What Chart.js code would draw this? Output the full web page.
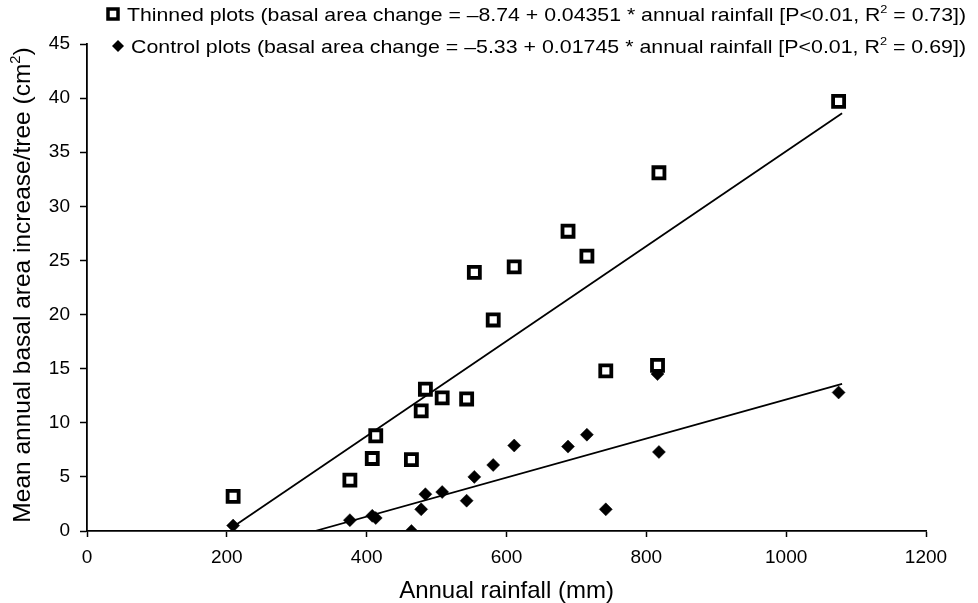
<!DOCTYPE html>
<html>
<head>
<meta charset="utf-8">
<script src="https://cdn.jsdelivr.net/npm/chart.js@4.4.0/dist/chart.umd.min.js"></script>
<style>
  html, body { margin: 0; padding: 0; background: #fff; }
  #wrap { width: 978px; height: 603px; position: relative; }
</style>
</head>
<body>
<div id="wrap"><canvas id="chart" width="978" height="603"></canvas></div>
<script>
// Data
const rainfall = [209, 376, 408, 413, 464, 478, 484, 508, 543, 554, 581, 611, 688, 715, 742, 816, 818, 1075];
const thinned  = [3.2, 4.7, 6.7, 8.8, 6.6, 11.1, 13.1, 12.3, 12.2, 23.9, 19.5, 24.4, 27.7, 25.4, 14.8, 15.3, 33.1, 39.7];
const control  = [0.5, 1.0, 1.4, 1.2, 0.0, 2.0, 3.4, 3.6, 2.8, 5.0, 6.1, 7.9, 7.8, 8.9, 2.0, 14.5, 7.3, 12.8];

// Regression line end points
const thinnedFitX = [209, 1080];
const thinnedFitY = [0.4, 38.6];
const controlFitX = [326, 1080];
const controlFitY = [0, 13.6];

const xTicks = [0, 200, 400, 600, 800, 1000, 1200];
const yTicks = [0, 5, 10, 15, 20, 25, 30, 35, 40, 45];

const legendLines = [
    [{ t: 'Thinned plots (basal area change = \u20138.74 + 0.04351 * annual rainfall [P<0.01, R' }, { t: '2', sup: true }, { t: ' = 0.73])' }],
    [{ t: 'Control plots (basal area change = \u20135.33 + 0.01745 * annual rainfall [P<0.01, R' }, { t: '2', sup: true }, { t: ' = 0.69])' }]
];
const yTitle = [{ t: 'Mean annual basal area increase/tree (cm' }, { t: '2', sup: true }, { t: ')' }];

const FONT = '"Liberation Sans", Arial, sans-serif';

function toPoints(xs, ys) {
    return xs.map((x, i) => ({ x: x, y: ys[i] }));
}

// measure / draw text with superscripts
function richWidth(ctx, parts, size) {
    let w = 0;
    parts.forEach(p => {
        ctx.font = (p.sup ? size * 0.6 : size) + 'px ' + FONT;
        w += ctx.measureText(p.t).width;
    });
    return w;
}

function drawRich(ctx, parts, x, y, size) {
    let cx = x;
    parts.forEach(p => {
        ctx.font = (p.sup ? size * 0.6 : size) + 'px ' + FONT;
        ctx.fillText(p.t, cx, p.sup ? y - size * 0.42 : y);
        cx += ctx.measureText(p.t).width;
    });
}

const extrasPlugin = {
    id: 'extras',
    afterDraw(chart) {
        const ctx = chart.ctx;
        ctx.save();
        ctx.fillStyle = '#000';
        ctx.textBaseline = 'alphabetic';
        ctx.textAlign = 'left';

        // legend line 1: hollow square
        ctx.lineWidth = 3.5;
        ctx.strokeStyle = '#000';
        ctx.fillStyle = '#fff';
        ctx.fillRect(108, 9, 10, 10);
        ctx.strokeRect(108, 9, 10, 10);
        ctx.fillStyle = '#000';
        const size = 19;
        const right = 966;
        let start = 127;
        let w = richWidth(ctx, legendLines[0], size);
        ctx.save();
        ctx.translate(start, 21);
        ctx.scale((right - start) / w, 1);
        drawRich(ctx, legendLines[0], 0, 0, size);
        ctx.restore();

        // legend line 2: filled diamond
        ctx.beginPath();
        ctx.moveTo(118, 40);
        ctx.lineTo(124, 46);
        ctx.lineTo(118, 52);
        ctx.lineTo(112, 46);
        ctx.closePath();
        ctx.fill();
        start = 131;
        w = richWidth(ctx, legendLines[1], size);
        ctx.save();
        ctx.translate(start, 53);
        ctx.scale((right - start) / w, 1);
        drawRich(ctx, legendLines[1], 0, 0, size);
        ctx.restore();

        // y axis title, rotated
        const ts = 24.5;
        const tw = richWidth(ctx, yTitle, ts);
        ctx.save();
        ctx.translate(30, 285);
        ctx.rotate(-Math.PI / 2);
        drawRich(ctx, yTitle, -tw / 2, 0, ts);
        ctx.restore();

        ctx.restore();
    }
};

const ctx = document.getElementById('chart').getContext('2d');

new Chart(ctx, {
    type: 'scatter',
    data: {
        datasets: [
            {
                label: 'Thinned plots',
                data: toPoints(rainfall, thinned),
                pointStyle: 'rect',
                pointRadius: 7.8,
                pointBackgroundColor: '#fff',
                pointBorderColor: '#000',
                pointBorderWidth: 3.8,
                order: 0
            },
            {
                label: 'Control plots',
                data: toPoints(rainfall, control),
                pointStyle: 'rectRot',
                pointRadius: 6.5,
                pointBackgroundColor: '#000',
                pointBorderColor: '#000',
                pointBorderWidth: 0.5,
                order: 0
            },
            {
                label: 'Thinned fit',
                data: toPoints(thinnedFitX, thinnedFitY),
                showLine: true,
                pointRadius: 0,
                borderColor: '#000',
                borderWidth: 1.8,
                order: 1
            },
            {
                label: 'Control fit',
                data: toPoints(controlFitX, controlFitY),
                showLine: true,
                pointRadius: 0,
                borderColor: '#000',
                borderWidth: 1.8,
                order: 1
            }
        ]
    },
    options: {
        responsive: false,
        animation: false,
        devicePixelRatio: 1,
        layout: {
            padding: { left: 0, top: 44, right: 52, bottom: 0 }
        },
        scales: {
            x: {
                type: 'linear',
                min: 0,
                max: 1200,
                afterBuildTicks: axis => { axis.ticks = xTicks.map(v => ({ value: v })); },
                afterFit: axis => { axis.height = 72; },
                ticks: {
                    color: '#000',
                    font: { family: FONT, size: 19 },
                    padding: 9,
                    autoSkip: false,
                    maxRotation: 0,
                    callback: v => String(v)
                },
                grid: {
                    drawOnChartArea: false,
                    drawTicks: true,
                    tickLength: 6,
                    tickWidth: 1.5,
                    tickColor: '#000'
                },
                border: { display: true, color: '#000', width: 1.8 },
                title: {
                    display: true,
                    text: 'Annual rainfall (mm)',
                    color: '#000',
                    font: { family: FONT, size: 24, lineHeight: 1 },
                    padding: { top: 4, bottom: 0 }
                }
            },
            y: {
                type: 'linear',
                min: 0,
                max: 45,
                afterBuildTicks: axis => { axis.ticks = yTicks.map(v => ({ value: v })); },
                afterFit: axis => { axis.width = 87; },
                ticks: {
                    color: '#000',
                    font: { family: FONT, size: 19 },
                    padding: 10,
                    autoSkip: false,
                    callback: v => String(v)
                },
                grid: {
                    drawOnChartArea: false,
                    drawTicks: true,
                    tickLength: 7,
                    tickWidth: 1.5,
                    tickColor: '#000'
                },
                border: { display: true, color: '#000', width: 1.8 }
            }
        },
        plugins: {
            legend: { display: false },
            tooltip: { enabled: false }
        }
    },
    plugins: [extrasPlugin]
});
</script>
</body>
</html>
